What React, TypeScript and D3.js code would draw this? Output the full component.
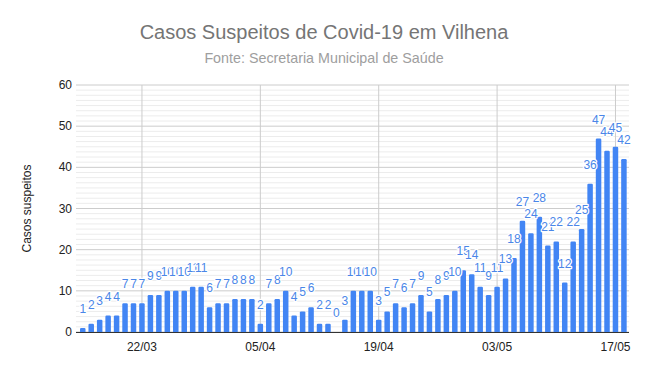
import * as d3 from "d3";

// Daily suspected cases, Vilhena (15/03 .. 18/05/2020)
const dates = [
  "15/03", "16/03", "17/03", "18/03", "19/03", "20/03", "21/03", "22/03", "23/03", "24/03",
  "25/03", "26/03", "27/03", "28/03", "29/03", "30/03", "31/03", "01/04", "02/04", "03/04",
  "04/04", "05/04", "06/04", "07/04", "08/04", "09/04", "10/04", "11/04", "12/04", "13/04",
  "14/04", "15/04", "16/04", "17/04", "18/04", "19/04", "20/04", "21/04", "22/04", "23/04",
  "24/04", "25/04", "26/04", "27/04", "28/04", "29/04", "30/04", "01/05", "02/05", "03/05",
  "04/05", "05/05", "06/05", "07/05", "08/05", "09/05", "10/05", "11/05", "12/05", "13/05",
  "14/05", "15/05", "16/05", "17/05", "18/05",
];
const cases = [
  1, 2, 3, 4, 4, 7, 7, 7, 9, 9,
  10, 10, 10, 11, 11, 6, 7, 7, 8, 8,
  8, 2, 7, 8, 10, 4, 5, 6, 2, 2,
  0, 3, 10, 10, 10, 3, 5, 7, 6, 7,
  9, 5, 8, 9, 10, 15, 14, 11, 9, 11,
  13, 18, 27, 24, 28, 21, 22, 12, 22, 25,
  36, 47, 44, 45, 42,
];
const xTicks = ["22/03", "05/04", "19/04", "03/05", "17/05"];
const yTicks = [0, 10, 20, 30, 40, 50, 60];

const W = 648;
const H = 371;
const FONT = "Arial, 'Liberation Sans', sans-serif";
const BLUE = "#4285f4";

const parse = d3.utcParse("%d/%m/%Y");
const toDate = (s: string) => parse(s + "/2020") as Date;
const DAY = 24 * 3600 * 1000;

export default function App() {
  const left = 76;
  const right = 629;
  const top = 85;
  const bottom = 332;

  const first = toDate(dates[0]).getTime();
  const last = toDate(dates[dates.length - 1]).getTime();
  const x = d3
    .scaleUtc()
    .domain([new Date(first - 0.8 * DAY), new Date(last + 0.6 * DAY)])
    .range([left, right]);
  const y = d3.scaleLinear().domain([0, 60]).range([bottom, top]);

  const minor = d3.range(0, 60, 1.25).filter((v) => v % 10 !== 0);
  const barW = 5.5;

  // bar with slightly rounded top
  const barPath = (cx: number, v: number) => {
    const x0 = cx - barW / 2;
    const x1 = cx + barW / 2;
    const yt = y(v);
    const r = Math.min(1.2, (bottom - yt) / 2);
    return `M${x0},${bottom}V${yt + r}Q${x0},${yt} ${x0 + r},${yt}H${x1 - r}Q${x1},${yt} ${x1},${yt + r}V${bottom}Z`;
  };

  return (
    <svg
      width={W}
      height={H}
      style={{ position: "absolute", left: 0, top: 0, background: "#fff" }}
      fontFamily={FONT}
    >
      <rect width={W} height={H} fill="#fff" />
      <text x={W / 2} y={39} textAnchor="middle" fontSize={20} fill="#757575">
        Casos Suspeitos de Covid-19 em Vilhena
      </text>
      <text x={W / 2} y={63} textAnchor="middle" fontSize={14.3} fill="#9e9e9e">
        Fonte: Secretaria Municipal de Saúde
      </text>

      {/* minor gridlines */}
      {minor.map((v) => (
        <line key={"m" + v} x1={left} x2={right} y1={y(v)} y2={y(v)} stroke="#ececec" />
      ))}
      {/* major gridlines */}
      {yTicks.map((v) => (
        <line key={"g" + v} x1={left} x2={right} y1={y(v)} y2={y(v)} stroke="#cccccc" />
      ))}
      {xTicks.map((t) => (
        <line
          key={"v" + t}
          x1={x(toDate(t))}
          x2={x(toDate(t))}
          y1={top}
          y2={bottom}
          stroke="#cccccc"
        />
      ))}

      {/* y tick labels */}
      {yTicks.map((v) => (
        <text key={"yt" + v} x={72} y={y(v) + 4} textAnchor="end" fontSize={12} fill="#222">
          {v}
        </text>
      ))}
      <text
        transform={`translate(31,${(top + bottom) / 2}) rotate(-90)`}
        textAnchor="middle"
        fontSize={12}
        fill="#222"
      >
        Casos suspeitos
      </text>

      {/* bars */}
      {cases.map((v, i) =>
        v > 0 ? <path key={"b" + i} d={barPath(x(toDate(dates[i])), v)} fill={BLUE} /> : null
      )}
      <line x1={left} x2={right} y1={bottom + 0.5} y2={bottom + 0.5} stroke="#333" />

      {/* data labels */}
      {cases.map((v, i) => (
        <text
          key={"l" + i}
          x={x(toDate(dates[i]))}
          y={y(v) - 15}
          textAnchor="middle"
          fontSize={12}
          fill="#4a86e8"
          stroke="#fff"
          strokeWidth={2.5}
          strokeLinejoin="round"
          paintOrder="stroke"
        >
          {v}
        </text>
      ))}

      {/* x tick labels */}
      {xTicks.map((t) => (
        <text key={"xt" + t} x={x(toDate(t))} y={351} textAnchor="middle" fontSize={12} fill="#222">
          {t}
        </text>
      ))}
    </svg>
  );
}
